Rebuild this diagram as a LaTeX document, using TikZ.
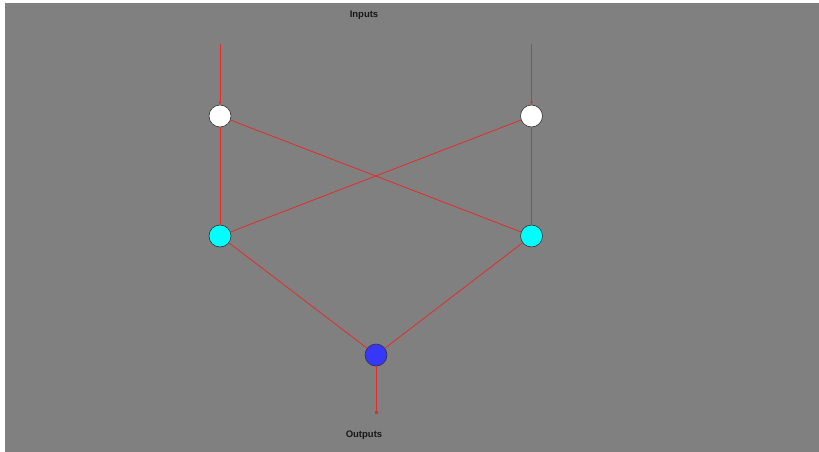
\documentclass[tikz,border=0pt]{standalone}
\usepackage{fontspec}
\setmainfont{Liberation Sans}
\usetikzlibrary{arrows.meta}
\definecolor{bg}{RGB}{128,128,128}
\definecolor{wire}{RGB}{225,45,45}
\definecolor{hid}{RGB}{0,255,255}
\definecolor{outc}{RGB}{55,55,250}
\tikzset{
  x=1pt,y=-1pt,
  neuron/.style={circle,draw=black!80,line width=0.6pt,minimum size=22pt,inner sep=0pt},
  wireline/.style={draw=wire,line width=0.8pt},
  lbl/.style={font=\fontsize{9.5}{10}\selectfont\bfseries,text=black!90}
}
\begin{document}
\begin{tikzpicture}
\useasboundingbox (0,0) rectangle (819,452);
\fill[white] (0,0) rectangle (819,452);
\fill[bg] (5,3) rectangle (819,452);
\node[lbl] (in) at (364,15.5) {Inputs};
\node[lbl] (out) at (364,435.5) {Outputs};
\coordinate (i1) at (220,44);
\coordinate (i2) at (531.5,44);
\coordinate (o) at (376,414);
\node[neuron,fill=white] (a1) at (220,116) {};
\node[neuron,fill=white] (a2) at (531.5,116) {};
\node[neuron,fill=hid] (b1) at (220,236) {};
\node[neuron,fill=hid] (b2) at (531.5,236) {};
\node[neuron,fill=outc] (c) at (376,355) {};
\path[wireline,-{Latex[length=3pt,width=3pt]}] (i1) -- (a1);
\path[wireline,-{Latex[length=3pt,width=3pt]}] (i2) -- (a2);
\path[wireline] (a1) -- (b1);
\path[wireline] (a2) -- (b2);
\path[wireline] (a1) -- (b2);
\path[wireline] (a2) -- (b1);
\path[wireline] (b1) -- (c);
\path[wireline] (b2) -- (c);
\path[wireline,-{Square[length=3pt,width=3pt]}] (c) -- (o);
\end{tikzpicture}
\end{document}
